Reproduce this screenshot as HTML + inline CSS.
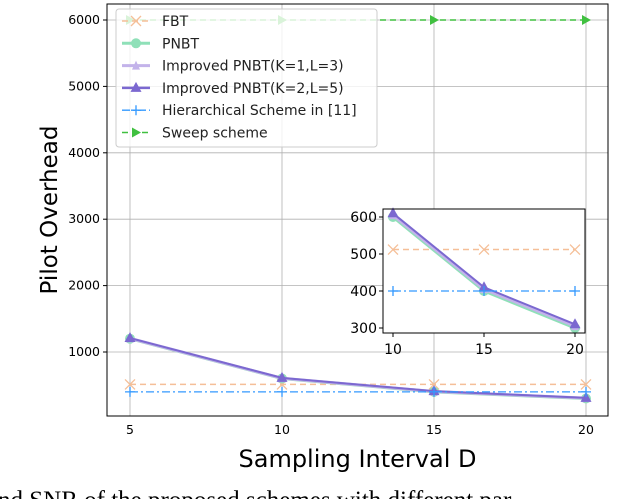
<!DOCTYPE html><html><head><meta charset="utf-8"><style>
body{margin:0;background:#fff;width:640px;height:499px;overflow:hidden;font-family:"DejaVu Sans","Liberation Sans",sans-serif}
</style></head><body>
<svg id="c" width="640" height="499" xmlns="http://www.w3.org/2000/svg"></svg>
<script>
const xs=[5,10,15,20];
const fbt=[512,512,512,512];
const pnbt=[1200,600,400,300];
const imp1=[1205,605,405,305];
const imp2=[1210,610,410,310];
const hier=[400,400,400,400];
const sweep=[6000,6000,6000,6000];
const yTicks=[1000,2000,3000,4000,5000,6000];
const insetX=[10,15,20];
const insetY=[300,400,500,600];
const svg=document.getElementById('c');const NS='http://www.w3.org/2000/svg';
function el(t,a,p){const e=document.createElementNS(NS,t);for(const k in a)e.setAttribute(k,a[k]);(p||svg).appendChild(e);return e;}
const L=107,R=608,T=4,B=416;
const X=v=>130+(v-5)*152/5, Y=v=>352-(v-1000)*66.4/1000;
const g=el('g',{});
xs.forEach(v=>{el('line',{x1:X(v),x2:X(v),y1:T,y2:B,stroke:'#b0b0b0','stroke-width':0.8},g);const t=el('text',{x:X(v),y:B+18,'font-size':12.5,'text-anchor':'middle'},g);t.textContent=v;});
yTicks.forEach(v=>{el('line',{x1:L,x2:R,y1:Y(v),y2:Y(v),stroke:'#b0b0b0','stroke-width':0.8},g);el('line',{x1:L-4,x2:L,y1:Y(v),y2:Y(v),stroke:'#000'},g);const t=el('text',{x:L-7,y:Y(v)+4,'font-size':12.5,'text-anchor':'end'},g);t.textContent=v;});
function series(d,X,Y,col,w,dash,mk,par,name){const sg=el('g',{},par);
 el('polyline',{points:d.map((v,i)=>X(d.xs[i])+','+Y(v)).join(' '),fill:'none',stroke:col,'stroke-width':w,'stroke-dasharray':dash},sg);
 d.forEach((v,i)=>marker(X(d.xs[i]),Y(v),mk,col,sg));}
function marker(x,y,mk,col,p){if(mk=='x'){el('path',{d:`M${x-5},${y-5}L${x+5},${y+5}M${x-5},${y+5}L${x+5},${y-5}`,stroke:col,'stroke-width':1.3},p);}
 else if(mk=='o')el('circle',{cx:x,cy:y,r:5,fill:col},p);
 else if(mk=='^')el('path',{d:`M${x},${y-6}L${x+5.5},${y+4}L${x-5.5},${y+4}Z`,fill:col},p);
 else if(mk=='*')el('path',{d:`M${x},${y-5}L${x+4},${y+4}L${x-4},${y+4}Z`,fill:col},p);
 else if(mk=='+')el('path',{d:`M${x-5},${y}L${x+5},${y}M${x},${y-5}L${x},${y+5}`,stroke:col,'stroke-width':1.3},p);
 else if(mk=='>')el('path',{d:`M${x+5},${y}L${x-4},${y-5}L${x-4},${y+5}Z`,fill:col},p);}
function all(par,X,Y,xx,sl){const ds=[[fbt,'#f5bf98',1.5,'6,4','x','fbt-series'],[pnbt,'#8fe0b8',3,'','o','pnbt-series'],[imp1,'#c3b3ea',3,'','*','improved-pnbt-k1-series'],[imp2,'#7b68d0',2,'','^','improved-pnbt-k2-series'],[hier,'#3399ff',1.3,'8,3,2,3','+','hierarchical-series'],[sweep,'#40c040',1.5,'6,4','>','sweep-series']];
 ds.forEach(s=>{if(!sl||s[5]!='sweep-series'){const d=sl?s[0].slice(1):s[0].slice();d.xs=xx;series(d,X,Y,s[1],s[2],s[3],s[4],par,s[5]);}});}
all(g,X,Y,xs,false);
el('rect',{x:L,y:T,width:R-L,height:B-T,fill:'none',stroke:'#000','stroke-width':1},g);
let t=el('text',{x:(L+R)/2,y:467,'font-size':24,'text-anchor':'middle'});t.textContent='Sampling Interval D';
t=el('text',{x:0,y:0,'font-size':23,'text-anchor':'middle',transform:`translate(57,${(T+B)/2}) rotate(-90)`});t.textContent='Pilot Overhead';
const lg=el('g',{});
el('rect',{x:116,y:9,width:261,height:138,rx:3,fill:'rgba(255,255,255,0.8)',stroke:'#ccc'},lg);
const ln=[['FBT','#f5bf98','6,4','x',1.5],['PNBT','#8fe0b8','','o',3],['Improved PNBT(K=1,L=3)','#c3b3ea','','*',3],['Improved PNBT(K=2,L=5)','#7b68d0','','^',2.5],['Hierarchical Scheme in [11]','#3399ff','8,3,2,3','+',1.3],['Sweep scheme','#40c040','6,4','>',1.5]];
ln.forEach((l,i)=>{const y=21+i*22.3;const e=el('g',{},lg);
 el('line',{x1:122,x2:150,y1:y,y2:y,stroke:l[1],'stroke-width':l[4],'stroke-dasharray':l[2]},e);marker(136,y,l[3],l[1],e);
 const tt=el('text',{x:162,y:y+5,'font-size':14,fill:'#222'},e);tt.textContent=l[0];});
const iL=383,iR=585,iT=209,iB=333;
const IX=v=>393+(v-10)*182/10, IY=v=>217+(600-v)*111/300;
const ig=el('g',{});
el('rect',{x:iL,y:iT,width:iR-iL,height:iB-iT,fill:'#fff'},ig);
all(ig,IX,IY,insetX,true);
el('rect',{x:iL,y:iT,width:iR-iL,height:iB-iT,fill:'none',stroke:'#000'},ig);
insetX.forEach(v=>{el('line',{x1:IX(v),x2:IX(v),y1:iB,y2:iB+4,stroke:'#000'},ig);const a=el('text',{x:IX(v),y:iB+21,'font-size':14,'text-anchor':'middle'},ig);a.textContent=v;});
insetY.forEach(v=>{el('line',{x1:iL-4,x2:iL,y1:IY(v),y2:IY(v),stroke:'#000'},ig);const a=el('text',{x:iL-6,y:IY(v)+5,'font-size':14,'text-anchor':'end'},ig);a.textContent=v;});
t=el('text',{x:-2,y:508,'font-size':25,'font-family':'Liberation Serif,serif'});t.textContent='nd SNR of the proposed schemes with different par';
</script></body></html>
